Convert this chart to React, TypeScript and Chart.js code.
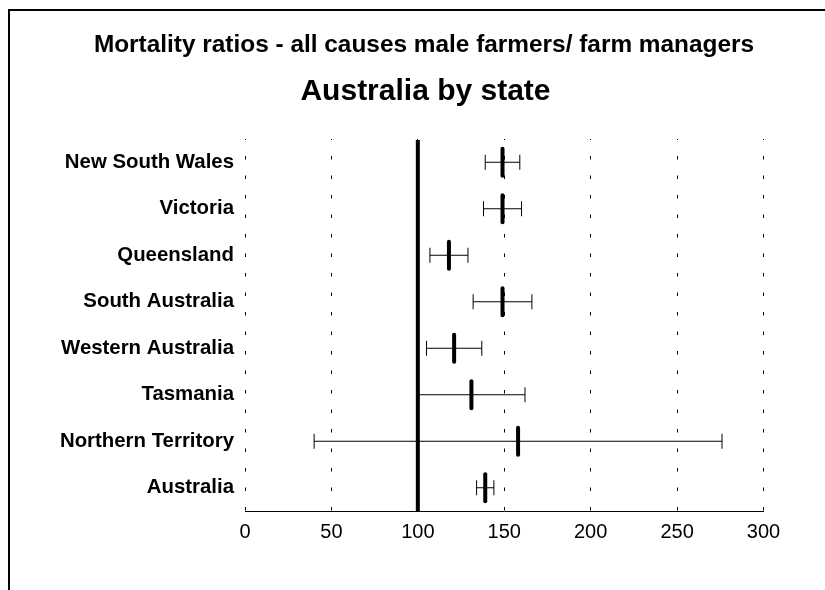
import React, { useEffect, useRef } from "react";
import { Chart, registerables } from "chart.js";

Chart.register(...registerables);

// Standardised mortality ratios (all causes) for male farmers / farm managers
const STATES = [
  "New South Wales",
  "Victoria",
  "Queensland",
  "South Australia",
  "Western Australia",
  "Tasmania",
  "Northern Territory",
  "Australia",
];
const RATIOS = [149, 149, 118, 149, 121, 131, 158, 139];
const LOWER = [139, 138, 107, 132, 105, 100.5, 40, 134];
const UPPER = [159, 160, 129, 166, 137, 162, 276, 144];

const X_MIN = 0;
const X_MAX = 300;
const X_STEP = 50;
const REFERENCE = 100;

const TITLE = "Mortality ratios - all causes male farmers/ farm managers";
const SUBTITLE = "Australia by state";

const FONT = '"Liberation Sans", Arial, Helvetica, sans-serif';

// Frame and headings around the plot
const headingPlugin = {
  id: "headings",
  beforeDraw(chart: any) {
    const { ctx } = chart;
    ctx.save();
    ctx.strokeStyle = "#000";
    ctx.lineWidth = 2;
    ctx.beginPath();
    ctx.moveTo(9, chart.height + 5);
    ctx.lineTo(9, 10);
    ctx.lineTo(chart.width + 5, 10);
    ctx.stroke();

    ctx.fillStyle = "#000";
    ctx.textAlign = "center";
    ctx.textBaseline = "alphabetic";
    ctx.font = `bold 24.4px ${FONT}`;
    ctx.fillText(TITLE, 424, 52);
    ctx.font = `bold 30px ${FONT}`;
    ctx.fillText(SUBTITLE, 425.5, 100);
    ctx.restore();
  },
};

// Confidence-interval whiskers and the reference line at 100
const intervalPlugin = {
  id: "intervals",
  beforeDatasetsDraw(chart: any) {
    const { ctx, chartArea } = chart;
    const xs = chart.scales.x;
    const ys = chart.scales.y;
    const cap = 7.5;
    ctx.save();
    ctx.strokeStyle = "#000";
    ctx.lineWidth = 1;
    STATES.forEach((_, i) => {
      const y = ys.getPixelForValue(i);
      const x1 = xs.getPixelForValue(LOWER[i]);
      const x2 = xs.getPixelForValue(UPPER[i]);
      ctx.beginPath();
      ctx.moveTo(x1, y);
      ctx.lineTo(x2, y);
      ctx.moveTo(x1, y - cap);
      ctx.lineTo(x1, y + cap);
      ctx.moveTo(x2, y - cap);
      ctx.lineTo(x2, y + cap);
      ctx.stroke();
    });
    const xr = xs.getPixelForValue(REFERENCE);
    ctx.lineWidth = 4;
    ctx.beginPath();
    ctx.moveTo(xr, chartArea.top + 1);
    ctx.lineTo(xr, chartArea.bottom);
    ctx.stroke();
    ctx.restore();
    // rounded ends on the ratio markers
    ctx.lineCap = "round";
  },
};

export default function App() {
  const canvasRef = useRef<HTMLCanvasElement | null>(null);

  useEffect(() => {
    if (!canvasRef.current) return;
    const chart = new Chart(canvasRef.current, {
      type: "line",
      data: {
        labels: STATES,
        datasets: [
          {
            data: RATIOS,
            showLine: false,
            pointStyle: "line",
            rotation: 90,
            pointRadius: 13.5,
            pointHoverRadius: 13.5,
            pointBorderWidth: 4,
            borderColor: "#000",
            backgroundColor: "#000",
          },
        ],
      },
      options: {
        indexAxis: "y",
        responsive: false,
        animation: false,
        events: [],
        layout: { padding: { top: 139, right: 61.5, bottom: 39, left: 0 } },
        plugins: {
          legend: { display: false },
          tooltip: { enabled: false },
          title: { display: false },
        },
        scales: {
          x: {
            type: "linear",
            position: "bottom",
            min: X_MIN,
            max: X_MAX,
            afterFit(scale: any) {
              scale.height = 40;
            },
            ticks: {
              stepSize: X_STEP,
              color: "#000",
              font: { family: FONT, size: 20 },
              padding: 9,
              maxRotation: 0,
              autoSkip: false,
            },
            grid: {
              color: "#000",
              lineWidth: 1,
              drawTicks: false,
            },
            border: {
              display: true,
              color: "#000",
              width: 1,
              dash: [3.5, 16],
              dashOffset: 2.5,
            },
          },
          y: {
            type: "category",
            offset: true,
            afterFit(scale: any) {
              scale.width = 245;
            },
            ticks: {
              color: "#000",
              font: { family: FONT, size: 20.4, weight: "bold" },
              padding: 11,
              autoSkip: false,
            },
            grid: { display: false, drawTicks: false },
            border: { display: false },
          },
        },
      },
      plugins: [headingPlugin, intervalPlugin],
    });
    return () => chart.destroy();
  }, []);

  return (
    <div style={{ position: "absolute", left: 0, top: 0, width: 825, height: 590, background: "#fff" }}>
      <canvas ref={canvasRef} width={825} height={590} style={{ width: 825, height: 590 }} />
    </div>
  );
}
